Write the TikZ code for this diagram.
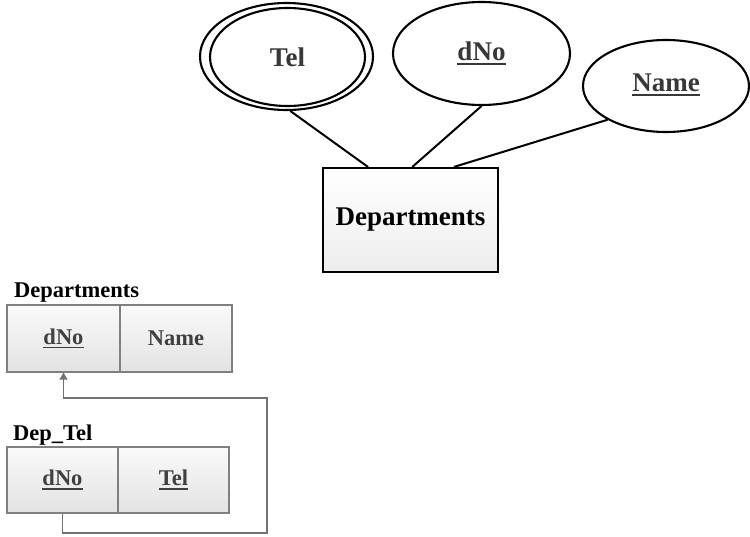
\documentclass[tikz,border=0pt]{standalone}
\usepackage{fontspec}
\setmainfont{Liberation Serif}
\usetikzlibrary{calc,arrows.meta,shapes.geometric}

% underlined key attribute with a heavier rule
\newsavebox\keybox
\newcommand{\keyline}[1]{\leavevmode\sbox\keybox{#1}\rlap{\rule[-0.19em]{\wd\keybox}{0.085em}}\usebox\keybox}

\tikzset{
  attr/.style={ellipse, draw, line width=2.1pt, fill=white, inner sep=0pt,
    font=\fontsize{27}{30}\selectfont\bfseries, text=black!78},
  entity/.style={rectangle, draw, line width=2.1pt, top color=white, bottom color=black!7,
    inner sep=0pt, font=\fontsize{27}{30}\selectfont\bfseries},
  link/.style={line width=2pt},
  cell/.style={rectangle, draw=black!50, line width=1.2pt, top color=black!2, bottom color=black!11,
    inner sep=0pt, font=\fontsize{22.5}{25}\selectfont\bfseries, text=black!75},
  tlabel/.style={anchor=base west, inner sep=0pt, font=\fontsize{22.5}{25}\selectfont\bfseries},
  fk/.style={draw=black!55, line width=1.4pt, -{Triangle[length=7pt,width=8pt]}}
}

\begin{document}
\begin{tikzpicture}[x=1pt,y=-1pt]
\useasboundingbox (0,0) rectangle (750,537);

% ER part: entity and its attributes
\node[entity, minimum width=175pt, minimum height=104pt] (dep) at (410.5,220) {Departments};

\node[attr, minimum width=173pt, minimum height=107pt] (tel) at (286.5,56.5) {};
\node[attr, minimum width=155pt, minimum height=98pt] (tel-in) at (287.5,57) {Tel};
\node[attr, minimum width=177pt, minimum height=103pt] (dno) at (481.5,53.5) {\keyline{dNo}};
\node[attr, minimum width=166pt, minimum height=92pt] (name) at (666,86) {\raisebox{7pt}{\keyline{Name}}};

\draw[link] (tel.-86) -- ($(dep.north west)!0.26!(dep.north east)$);
\draw[link] (dno.south) -- ($(dep.north west)!0.51!(dep.north east)$);
\draw[link] (name.210.5) -- ($(dep.north west)!0.745!(dep.north east)$);

% relational tables
\node[tlabel] (lab1) at (14,298) {Departments};
\node[cell, minimum width=113pt, minimum height=67pt] (d1) at (63.5,338.5) {\keyline{dNo}};
\node[cell, minimum width=112pt, minimum height=67pt] (n1) at (176,338.5) {Name};

\node[tlabel] (lab2) at (13,440) {Dep\_Tel};
\node[cell, minimum width=111pt, minimum height=66pt] (d2) at (62.5,480) {\keyline{dNo}};
\node[cell, minimum width=111pt, minimum height=66pt] (t2) at (173.5,480) {\keyline{Tel}};

% foreign key reference Dep_Tel.dNo -> Departments.dNo
\coordinate (c1) at (267,533);
\coordinate (c2) at (267,398);
\draw[fk] (d2.south) |- (c1) -- (c2) -| (d1.south);
\end{tikzpicture}
\end{document}
